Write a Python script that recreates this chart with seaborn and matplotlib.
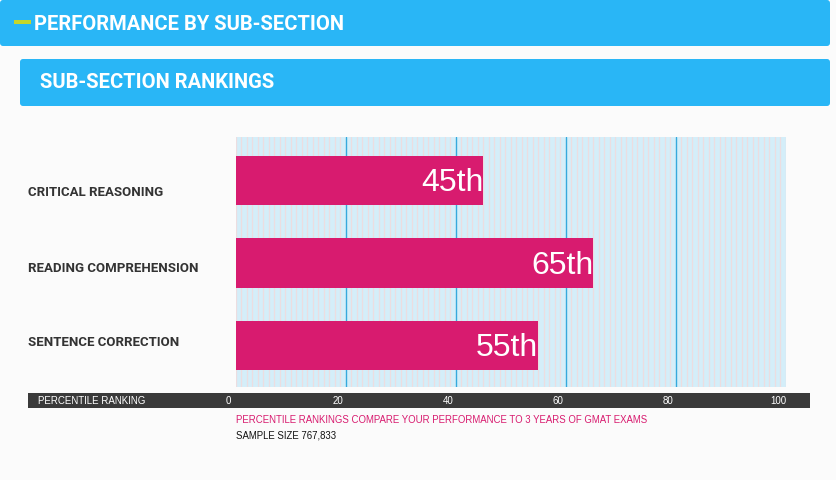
"""Sub-section percentile rankings as a horizontal bar chart."""

import numpy as np
import pandas as pd
import matplotlib

matplotlib.use("Agg")
import matplotlib.pyplot as plt
import matplotlib.transforms as mtransforms
from matplotlib.patches import FancyBboxPatch
import seaborn as sns

SECTIONS = ["CRITICAL REASONING", "READING COMPREHENSION", "SENTENCE CORRECTION"]
PERCENTILES = [45, 65, 55]
RANK_LABELS = ["45th", "65th", "55th"]
TICK_VALUES = [0, 20, 40, 60, 80, 100]

BLUE = "#29b6f6"
PINK = "#d81b6f"
BG = "#fbfbfb"
W, H = 837, 480

sns.set_theme(style="white")
plt.rcParams["font.family"] = ["Liberation Sans", "DejaVu Sans"]
HEAD = ["Roboto", "Liberation Sans", "DejaVu Sans"]


def fig_rect(x0, y0, x1, y1):
    """Pixel box (top-left origin) to figure fraction rect."""
    return [x0 / W, 1 - y1 / H, (x1 - x0) / W, (y1 - y0) / H]


fig = plt.figure(figsize=(W / 100, H / 100), dpi=100, facecolor=BG)

# header boxes
for x0, y0, x1, y1 in [(0, 0, 830, 46), (20, 59, 830, 106)]:
    fig.patches.append(FancyBboxPatch((x0, H - y1), x1 - x0, y1 - y0,
                                      boxstyle="round,pad=0,rounding_size=3",
                                      transform=None, fc=BLUE, ec="none", zorder=-2))
fig.patches.append(plt.Rectangle((14 / W, 1 - 24 / H), 17 / W, 3.5 / H, transform=fig.transFigure,
                                 fc="#c5d62b", ec="none", zorder=2))
fig.text(34 / W, 1 - 25 / H, "PERFORMANCE BY SUB-SECTION", color="white", fontsize=14.5,
         fontweight="bold", family=HEAD, va="center", ha="left")
fig.text(40 / W, 1 - 82 / H, "SUB-SECTION RANKINGS", color="white", fontsize=14.5,
         fontweight="bold", family=HEAD, va="center", ha="left")

# dark axis band
band = fig.add_axes(fig_rect(28, 393, 810, 408))
band.set_facecolor("#3a3a3a")
band.set_xticks([])
band.set_yticks([])
for s in band.spines.values():
    s.set_visible(False)
band.text(10 / 782, 0.5, "PERCENTILE RANKING", color="white", fontsize=7,
          va="center", ha="left", transform=band.transAxes)

ax = fig.add_axes(fig_rect(236, 137, 786, 387))
df = pd.DataFrame({"section": SECTIONS, "pct": PERCENTILES})
sns.barplot(data=df, x="pct", y="section", orient="h", color=PINK, width=0.6,
            saturation=1, linewidth=0, edgecolor="none", ax=ax, zorder=3)
ax.set_facecolor("#d4eef9")
ax.set_xlim(0, 100)
ax.set_ylim(2.5, -0.53)
ax.set_xticks(np.arange(0, 101, 1), minor=True)
ax.set_xticks(TICK_VALUES[1:-1])
ax.grid(which="minor", axis="x", color="#ecdde0", lw=0.9, zorder=0)
ax.grid(which="major", axis="x", color="#35a9dc", lw=1.0, zorder=1)
ax.set_axisbelow(True)
ax.tick_params(which="both", length=0, labelbottom=False)
ax.set_yticklabels([])
ax.set_xlabel("")
ax.set_ylabel("")
for s in ax.spines.values():
    s.set_visible(False)

# rank labels inside bar ends
for i, (v, lab) in enumerate(zip(PERCENTILES, RANK_LABELS)):
    ax.text(v, i + 0.03, lab, color="white", fontsize=23, ha="right", va="center", zorder=4)

# section names left of the plot, on their own evenly spaced rows
for i, name in enumerate(SECTIONS):
    fig.text(28 / W, 1 - (193 + 75 * i) / H, name, color="#333333", fontsize=9.5,
             fontweight="bold", family=HEAD, ha="left", va="center")

# tick labels in the dark band, nudged left like the original
shift = mtransforms.ScaledTranslation(-8 / 100, 0, fig.dpi_scale_trans)
tick_tr = mtransforms.blended_transform_factory(ax.transData, fig.transFigure) + shift
for v in TICK_VALUES:
    ax.text(v, 1 - 400.5 / H, str(v), color="white", fontsize=7, ha="center", va="center",
            transform=tick_tr, clip_on=False)

fig.text(236 / W, 1 - 420 / H,
         "PERCENTILE RANKINGS COMPARE YOUR PERFORMANCE TO 3 YEARS OF GMAT EXAMS",
         color=PINK, fontsize=6.9, va="center", ha="left")
fig.text(236 / W, 1 - 435 / H, "SAMPLE SIZE 767,833", color="#111111", fontsize=6.9,
         va="center", ha="left")

fig.savefig("out.png", dpi=100, facecolor=BG)
